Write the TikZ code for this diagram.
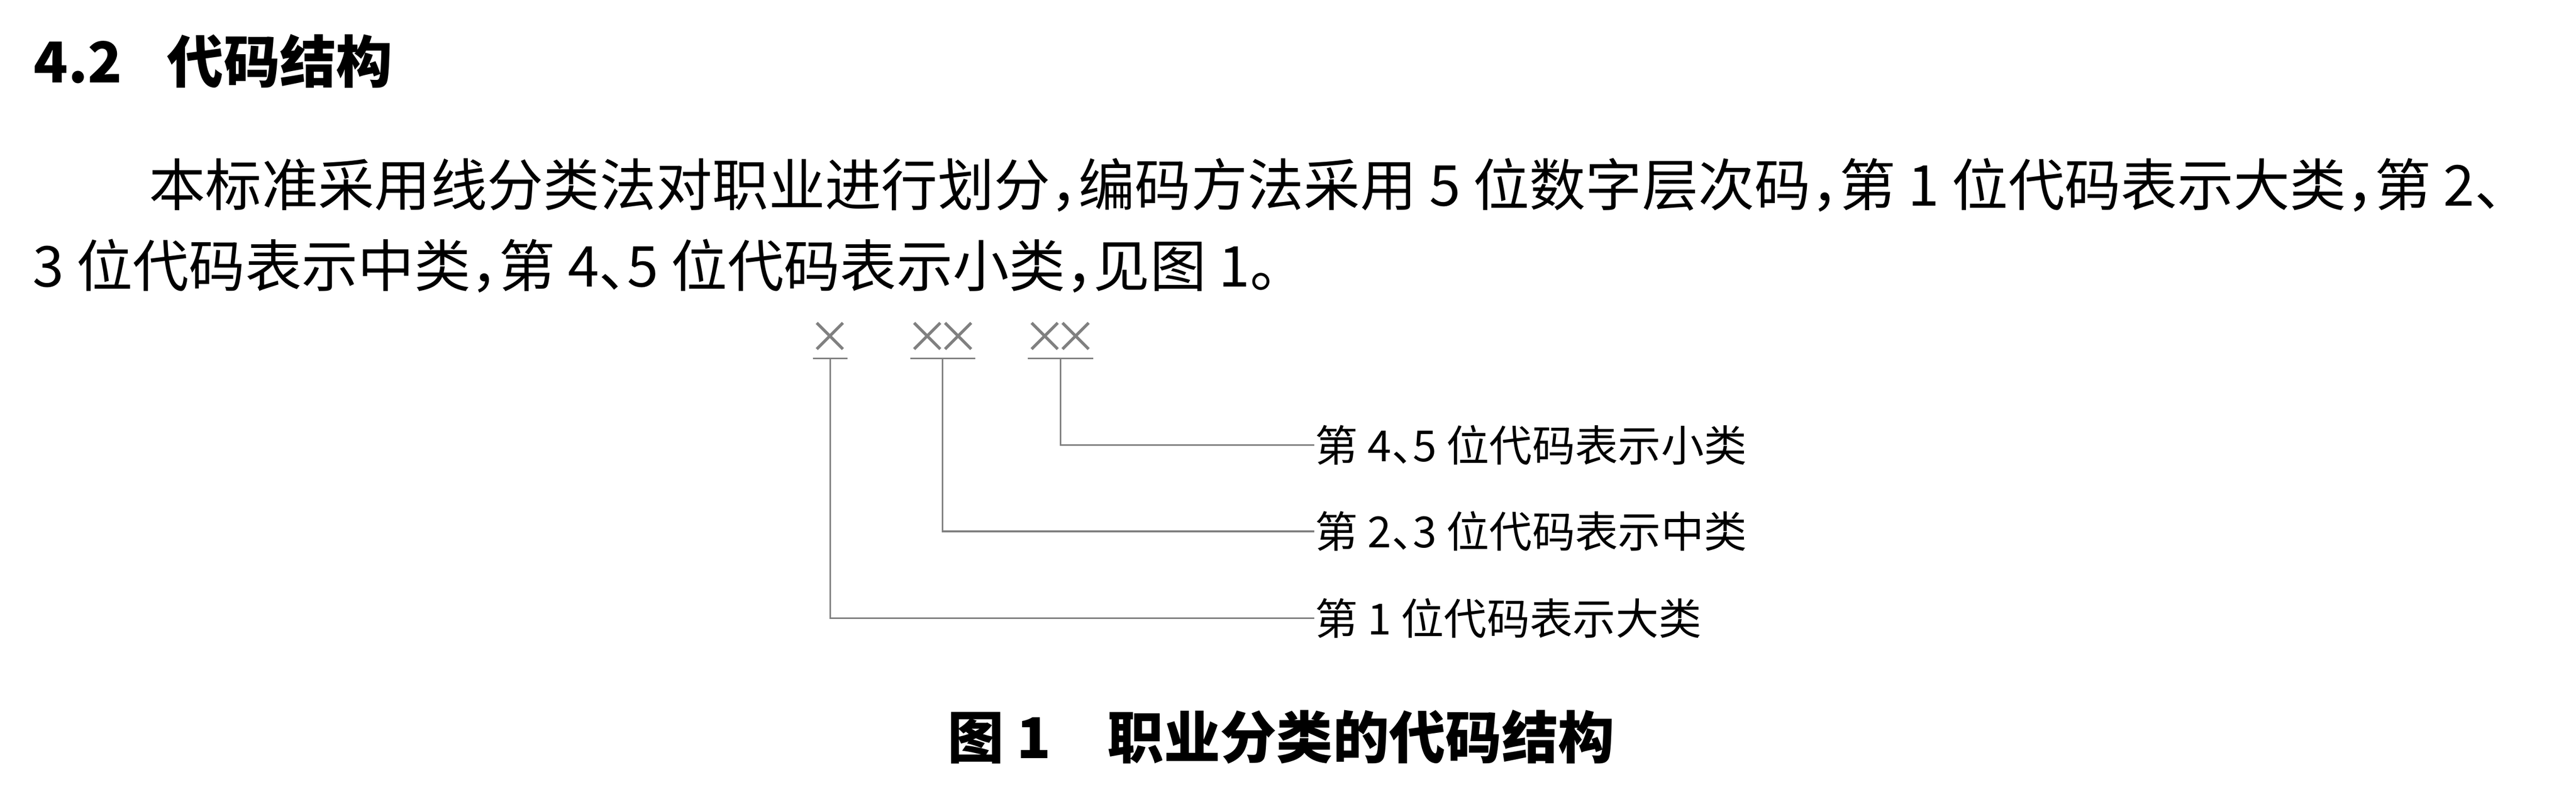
\documentclass[tikz,border=0pt]{standalone}
\usepackage{fontspec}
\setmainfont{Noto Sans CJK SC}[RawFeature=+halt]
\newcommand{\cross}{×}
\newcommand{\crosses}{×\kern-0.3em×}
\begin{document}
\begin{tikzpicture}[
    body/.style={anchor=west,inner sep=0pt,font=\fontsize{10.5pt}{12pt}\selectfont},
    heavy/.style={inner sep=0pt,font=\fontsize{10.5pt}{12pt}\selectfont\bfseries},
    code/.style={anchor=south,inner xsep=-1.1pt,inner ysep=0.8pt,text=black!50,font=\fontsize{8.2pt}{9pt}\selectfont},
    lbl/.style={anchor=west,inner sep=0pt,font=\fontsize{8pt}{9.6pt}\selectfont},
    wire/.style={draw=black!50,line width=0.3pt}]
    \useasboundingbox (0,0) rectangle (16.876,-5.152);
    \node[heavy,anchor=west] (head) at (0.215,-0.402) {4.2\hspace{0.8em}代码结构};
    \node[body] (line1) at (0.97,-1.213) {本标准采用线分类法对职业进行划分，编码方法采用 5 位数字层次码，第 1 位代码表示大类，第 2、};
    \node[body] (line2) at (0.206,-1.742) {3 位代码表示中类，第 4、5 位代码表示小类，见图 1。};
    \node[code] (g1) at (5.438,-2.347) {\cross};
    \node[code] (g2) at (6.176,-2.347) {\crosses};
    \node[code] (g3) at (6.947,-2.347) {\crosses};
    \foreach \g in {g1,g2,g3} \draw[wire] (\g.south west) -- (\g.south east);
    \node[lbl] (minor) at (8.609,-2.915) {第 4、5 位代码表示小类};
    \node[lbl] (middle) at (8.609,-3.480) {第 2、3 位代码表示中类};
    \node[lbl] (major) at (8.609,-4.049) {第 1 位代码表示大类};
    \draw[wire] (g3.south) |- (minor.west);
    \draw[wire] (g2.south) |- (middle.west);
    \draw[wire] (g1.south) |- (major.west);
    \node[heavy] (cap) at (8.393,-4.826) {图 1\quad 职业分类的代码结构};
\end{tikzpicture}
\end{document}
